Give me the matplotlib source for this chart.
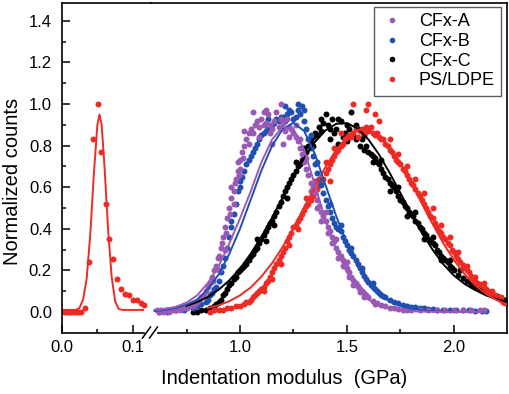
import numpy as np
import matplotlib
matplotlib.use("Agg")
import matplotlib.pyplot as plt
from matplotlib.lines import Line2D

plt.rcParams['font.family'] = ['Liberation Sans', 'DejaVu Sans']

# colours
c_a = '#9b59b6'
c_b = '#1f4fb0'
c_c = '#000000'
c_d = '#ee2a24'

# PS/LDPE low-modulus part (left segment)
low_x = [0.003, 0.006, 0.009, 0.012, 0.015, 0.018, 0.021, 0.024, 0.027, 0.032, 0.038,
         0.044, 0.0505, 0.0556, 0.0616, 0.0667, 0.0722, 0.0778, 0.0833, 0.089, 0.094,
         0.100, 0.106, 0.111, 0.116]
low_y = [0, 0, 0, 0, 0, 0, 0, 0, 0, 0.02, 0.24, 0.83, 1.0, 0.77, 0.52, 0.35, 0.255,
         0.157, 0.11, 0.085, 0.08, 0.06, 0.057, 0.045, 0.035]
low_fit_x = [0.0, 0.01, 0.02, 0.025, 0.03, 0.035, 0.04, 0.045, 0.05, 0.053, 0.056, 0.06,
             0.065, 0.07, 0.075, 0.08, 0.085, 0.09, 0.1, 0.114]
low_fit_y = [0.01, 0.01, 0.01, 0.02, 0.06, 0.16, 0.37, 0.66, 0.90, 0.95, 0.90, 0.70,
             0.40, 0.17, 0.05, 0.015, 0.01, 0.01, 0.01, 0.01]

# CFx-A
cfa = [(0.61, 0.01), (0.62, 0.00), (0.63, 0.01), (0.64, 0.00), (0.65, 0.01), (0.66, 0.01),
       (0.67, 0.00), (0.68, 0.01), (0.69, 0.01), (0.70, 0.01), (0.71, 0.02), (0.72, 0.01),
       (0.73, 0.02), (0.74, 0.02), (0.75, 0.02), (0.76, 0.03), (0.77, 0.03), (0.78, 0.03),
       (0.79, 0.04), (0.80, 0.05), (0.81, 0.06), (0.82, 0.07), (0.83, 0.08), (0.84, 0.10),
       (0.85, 0.12), (0.86, 0.14), (0.87, 0.17), (0.875, 0.15), (0.88, 0.20), (0.89, 0.22),
       (0.895, 0.26), (0.90, 0.27), (0.91, 0.31), (0.915, 0.33), (0.92, 0.36), (0.93, 0.41),
       (0.935, 0.38), (0.94, 0.45), (0.95, 0.50), (0.955, 0.47), (0.96, 0.55), (0.97, 0.58),
       (0.975, 0.62), (0.98, 0.64), (0.99, 0.68), (0.995, 0.66), (1.00, 0.73), (1.01, 0.77),
       (1.015, 0.74), (1.02, 0.80), (1.03, 0.83), (1.04, 0.86), (1.05, 0.88), (1.06, 0.86),
       (1.07, 0.90), (1.08, 0.92), (1.09, 0.89), (1.10, 0.93), (1.11, 0.90), (1.12, 0.91),
       (1.13, 0.95), (1.14, 0.90), (1.15, 0.88), (1.16, 0.92), (1.17, 0.96), (1.18, 0.89),
       (1.19, 0.93), (1.20, 0.91), (1.21, 0.87), (1.22, 0.93), (1.23, 0.89), (1.24, 0.88),
       (1.25, 0.86), (1.26, 0.84), (1.27, 0.82), (1.28, 0.79), (1.29, 0.76), (1.30, 0.72),
       (1.31, 0.69), (1.32, 0.66), (1.33, 0.62), (1.34, 0.60), (1.35, 0.57), (1.36, 0.54),
       (1.37, 0.51), (1.38, 0.48), (1.39, 0.46), (1.40, 0.44), (1.41, 0.41), (1.42, 0.39),
       (1.43, 0.36), (1.44, 0.34), (1.45, 0.31), (1.46, 0.29), (1.47, 0.27), (1.48, 0.25),
       (1.49, 0.23), (1.50, 0.21), (1.51, 0.19), (1.52, 0.17), (1.53, 0.155), (1.54, 0.14),
       (1.55, 0.125), (1.56, 0.11), (1.57, 0.10), (1.58, 0.09), (1.59, 0.08), (1.60, 0.07),
       (1.62, 0.055), (1.64, 0.045), (1.66, 0.035), (1.68, 0.03), (1.70, 0.02), (1.72, 0.02),
       (1.74, 0.015), (1.76, 0.01), (1.78, 0.01), (1.80, 0.01), (1.84, 0.01), (1.88, 0.01),
       (1.92, 0.01), (1.96, 0.01), (2.00, 0.01), (2.04, 0.01), (2.08, 0.01), (2.12, 0.01),
       (2.14, 0.01),
       (1.06, 0.96), (1.11, 0.96), (1.19, 1.00), (1.02, 0.87), (1.00, 0.69), (0.97, 0.52),
       (0.93, 0.30), (0.90, 0.20), (1.14, 0.86), (1.23, 0.84), (1.28, 0.83), (1.33, 0.58),
       (1.38, 0.44), (1.43, 0.33), (1.48, 0.22), (1.53, 0.13), (1.58, 0.07), (1.63, 0.04),
       (1.36, 0.50), (1.41, 0.38), (1.46, 0.26), (1.51, 0.17), (1.56, 0.095), (1.09, 0.84),
       (1.15, 0.81), (1.20, 0.81), (0.96, 0.60), (0.99, 0.72), (1.04, 0.81), (1.12, 0.97),
       (1.26, 0.90), (1.31, 0.74), (1.35, 0.62), (1.40, 0.48), (1.45, 0.35), (1.50, 0.24)]

# CFx-B
cfb = [(0.62, 0.00), (0.66, 0.00), (0.70, 0.01), (0.74, 0.01), (0.78, 0.02), (0.80, 0.03),
       (0.82, 0.04), (0.84, 0.05), (0.85, 0.06), (0.86, 0.08), (0.87, 0.09), (0.88, 0.11),
       (0.89, 0.12), (0.90, 0.15), (0.91, 0.19), (0.92, 0.22), (0.93, 0.26), (0.94, 0.31),
       (0.95, 0.36), (0.96, 0.41), (0.97, 0.47), (0.98, 0.52), (0.99, 0.58), (1.00, 0.63),
       (1.01, 0.65), (1.02, 0.68), (1.03, 0.71), (1.04, 0.73), (1.05, 0.75), (1.06, 0.77),
       (1.07, 0.79), (1.08, 0.81), (1.09, 0.83), (1.10, 0.85), (1.11, 0.86), (1.12, 0.87),
       (1.13, 0.88), (1.14, 0.89), (1.15, 0.90), (1.16, 0.91), (1.17, 0.93), (1.18, 0.92),
       (1.19, 0.94), (1.20, 0.94), (1.21, 0.92), (1.22, 0.95), (1.23, 0.97), (1.24, 0.96),
       (1.25, 0.93), (1.26, 0.94), (1.27, 0.97), (1.28, 0.95), (1.29, 0.99), (1.30, 0.92),
       (1.31, 0.88), (1.32, 0.83), (1.33, 0.79), (1.34, 0.75), (1.35, 0.71), (1.36, 0.67),
       (1.37, 0.64), (1.38, 0.61), (1.39, 0.57), (1.40, 0.54), (1.41, 0.51), (1.42, 0.48),
       (1.43, 0.45), (1.44, 0.43), (1.45, 0.41), (1.46, 0.40), (1.47, 0.39), (1.48, 0.36),
       (1.49, 0.34), (1.50, 0.32), (1.51, 0.30), (1.52, 0.285), (1.53, 0.27), (1.54, 0.25),
       (1.55, 0.23), (1.56, 0.21), (1.57, 0.19), (1.58, 0.175), (1.59, 0.16), (1.60, 0.145),
       (1.61, 0.13), (1.62, 0.12), (1.63, 0.11), (1.64, 0.10), (1.65, 0.09), (1.66, 0.08),
       (1.67, 0.075), (1.68, 0.07), (1.70, 0.06), (1.72, 0.05), (1.74, 0.045), (1.76, 0.035),
       (1.78, 0.03), (1.80, 0.025), (1.82, 0.025), (1.84, 0.02), (1.86, 0.02), (1.88, 0.015),
       (1.90, 0.015), (1.92, 0.012), (1.95, 0.01), (1.98, 0.01), (2.01, 0.01), (2.04, 0.008),
       (2.07, 0.008), (2.10, 0.005), (2.13, 0.005), (2.15, 0.005),
       (1.13, 0.93), (1.21, 0.99), (1.27, 1.00), (1.30, 0.97), (1.33, 0.85), (1.36, 0.72),
       (1.42, 0.52), (1.47, 0.42), (1.52, 0.31), (1.57, 0.21), (1.62, 0.14), (0.96, 0.44),
       (1.00, 0.60)]

# CFx-C
cfc = [(0.78, 0.00), (0.80, 0.00), (0.82, 0.01), (0.84, 0.01), (0.86, 0.02), (0.87, 0.02),
       (0.88, 0.03), (0.89, 0.04), (0.90, 0.05), (0.91, 0.06), (0.92, 0.08), (0.93, 0.09),
       (0.94, 0.11), (0.95, 0.13), (0.96, 0.14), (0.97, 0.16), (0.98, 0.17), (0.99, 0.19),
       (1.00, 0.20), (1.01, 0.21), (1.02, 0.22), (1.03, 0.23), (1.04, 0.25), (1.05, 0.27),
       (1.06, 0.28), (1.07, 0.30), (1.08, 0.31), (1.09, 0.33), (1.10, 0.35), (1.11, 0.37),
       (1.12, 0.39), (1.13, 0.41), (1.14, 0.43), (1.15, 0.44), (1.16, 0.46), (1.17, 0.48),
       (1.18, 0.51), (1.19, 0.53), (1.20, 0.56), (1.21, 0.58), (1.22, 0.60), (1.23, 0.62),
       (1.24, 0.64), (1.25, 0.66), (1.26, 0.68), (1.27, 0.70), (1.28, 0.71), (1.29, 0.73),
       (1.30, 0.75), (1.31, 0.77), (1.32, 0.80), (1.33, 0.82), (1.34, 0.84), (1.35, 0.86),
       (1.36, 0.85), (1.37, 0.89), (1.38, 0.87), (1.39, 0.91), (1.40, 0.95), (1.41, 0.90),
       (1.42, 0.88), (1.43, 0.93), (1.44, 0.86), (1.45, 0.88), (1.46, 0.93), (1.47, 0.92),
       (1.48, 0.84), (1.49, 0.86), (1.50, 0.90), (1.51, 0.88), (1.52, 0.96), (1.53, 0.85),
       (1.54, 0.83), (1.55, 0.88), (1.56, 0.80), (1.57, 0.83), (1.58, 0.78), (1.59, 0.80),
       (1.60, 0.77), (1.61, 0.76), (1.62, 0.75), (1.63, 0.74), (1.64, 0.72), (1.65, 0.71),
       (1.66, 0.69), (1.67, 0.67), (1.68, 0.65), (1.69, 0.64), (1.70, 0.62), (1.71, 0.61),
       (1.72, 0.60), (1.73, 0.58), (1.74, 0.56), (1.75, 0.54), (1.76, 0.53), (1.77, 0.51),
       (1.78, 0.50), (1.79, 0.48), (1.80, 0.47), (1.81, 0.46), (1.82, 0.44), (1.83, 0.43),
       (1.84, 0.41), (1.85, 0.40), (1.86, 0.38), (1.87, 0.37), (1.88, 0.35), (1.89, 0.34),
       (1.90, 0.33), (1.91, 0.32), (1.92, 0.30), (1.93, 0.29), (1.94, 0.27), (1.95, 0.26),
       (1.96, 0.25), (1.97, 0.24), (1.98, 0.22), (1.99, 0.21), (2.00, 0.20), (2.02, 0.18),
       (2.04, 0.165), (2.06, 0.15), (2.08, 0.13), (2.10, 0.12), (2.12, 0.11), (2.14, 0.10),
       (2.16, 0.09), (2.18, 0.08), (2.20, 0.075), (2.22, 0.065), (2.24, 0.06),
       (1.08, 0.35), (1.12, 0.34), (1.16, 0.42), (1.22, 0.55), (1.26, 0.72), (1.30, 0.79),
       (1.34, 0.80), (1.38, 0.93), (1.42, 0.83), (1.46, 0.81), (1.50, 0.82), (1.54, 0.90),
       (1.58, 0.85), (1.62, 0.72), (1.66, 0.73), (1.70, 0.58), (1.74, 0.60), (1.78, 0.46),
       (1.82, 0.48), (1.86, 0.35), (1.90, 0.36), (1.94, 0.25), (1.98, 0.25), (2.03, 0.20),
       (2.08, 0.145), (2.13, 0.12)]

# PS/LDPE
psl = [(0.86, 0.00), (0.88, 0.01), (0.90, 0.01), (0.92, 0.01), (0.94, 0.02), (0.96, 0.02),
       (0.98, 0.03), (1.00, 0.03), (1.02, 0.04), (1.03, 0.05), (1.04, 0.05), (1.05, 0.06),
       (1.06, 0.07), (1.07, 0.08), (1.08, 0.09), (1.09, 0.10), (1.10, 0.11), (1.11, 0.12),
       (1.12, 0.14), (1.13, 0.15), (1.14, 0.17), (1.15, 0.19), (1.16, 0.21), (1.17, 0.23),
       (1.18, 0.25), (1.19, 0.27), (1.20, 0.29), (1.21, 0.31), (1.22, 0.34), (1.23, 0.36),
       (1.24, 0.38), (1.25, 0.41), (1.26, 0.42), (1.27, 0.44), (1.28, 0.45), (1.29, 0.47),
       (1.30, 0.49), (1.31, 0.51), (1.32, 0.52), (1.33, 0.54), (1.34, 0.56), (1.35, 0.58),
       (1.36, 0.59), (1.37, 0.61), (1.38, 0.62), (1.39, 0.64), (1.40, 0.67), (1.41, 0.69),
       (1.42, 0.71), (1.43, 0.73), (1.44, 0.75), (1.45, 0.77), (1.46, 0.78), (1.47, 0.80),
       (1.48, 0.81), (1.49, 0.83), (1.50, 0.84), (1.51, 0.85), (1.52, 0.84), (1.53, 0.86),
       (1.54, 0.88), (1.55, 0.84), (1.56, 0.87), (1.57, 0.88), (1.58, 0.86), (1.59, 0.89),
       (1.60, 0.87), (1.61, 0.89), (1.62, 0.86), (1.63, 0.85), (1.64, 0.86), (1.65, 0.84),
       (1.66, 0.83), (1.67, 0.83), (1.68, 0.81), (1.69, 0.80), (1.70, 0.78), (1.71, 0.77),
       (1.72, 0.75), (1.73, 0.73), (1.74, 0.72), (1.75, 0.71), (1.76, 0.69), (1.77, 0.68),
       (1.78, 0.66), (1.79, 0.64), (1.80, 0.62), (1.81, 0.61), (1.82, 0.59), (1.83, 0.57),
       (1.84, 0.56), (1.85, 0.54), (1.86, 0.52), (1.87, 0.50), (1.88, 0.48), (1.89, 0.46),
       (1.90, 0.45), (1.91, 0.43), (1.92, 0.41), (1.93, 0.39), (1.94, 0.38), (1.95, 0.36),
       (1.96, 0.35), (1.97, 0.33), (1.98, 0.32), (1.99, 0.30), (2.00, 0.29), (2.01, 0.27),
       (2.02, 0.255), (2.03, 0.24), (2.04, 0.225), (2.05, 0.21), (2.06, 0.20), (2.07, 0.19),
       (2.08, 0.175), (2.09, 0.16), (2.10, 0.15), (2.11, 0.14), (2.12, 0.135), (2.13, 0.13),
       (2.14, 0.12), (2.15, 0.11), (2.16, 0.10), (2.17, 0.09), (2.18, 0.085), (2.19, 0.08),
       (2.20, 0.07), (2.21, 0.065), (2.22, 0.06), (2.23, 0.05), (2.24, 0.045),
       (1.53, 1.00), (1.60, 1.00), (1.59, 0.97), (1.65, 0.92), (1.63, 0.95), (1.47, 0.86),
       (1.44, 0.79), (1.40, 0.72), (1.35, 0.63), (1.31, 0.55), (1.27, 0.40), (1.23, 0.32),
       (1.19, 0.23), (1.15, 0.16), (1.11, 0.10), (1.42, 0.63), (1.70, 0.83), (1.74, 0.76),
       (1.78, 0.70), (1.82, 0.64), (1.86, 0.57), (1.90, 0.50), (1.94, 0.42), (1.98, 0.36),
       (2.02, 0.29), (2.06, 0.22), (2.10, 0.17), (2.14, 0.14), (2.18, 0.10), (2.22, 0.07)]

# fitted curves, read at 0.05 GPa steps
nan = np.nan
fit_x = [0.60, 0.65, 0.70, 0.75, 0.80, 0.85, 0.90, 0.95, 1.00, 1.05, 1.10, 1.15, 1.20,
         1.25, 1.30, 1.35, 1.40, 1.45, 1.50, 1.55, 1.60, 1.65, 1.70, 1.75, 1.80, 1.85,
         1.90, 1.95, 2.00, 2.05, 2.10, 2.15, 2.20, 2.25]
fit_a = [0.010, 0.015, 0.025, 0.045, 0.080, 0.140, 0.220, 0.330, 0.450, 0.580, 0.720,
         0.830, 0.890, 0.880, 0.780, 0.610, 0.440, 0.300, 0.190, 0.110, 0.060, 0.030,
         0.015, 0.008, 0.004, 0.002, 0.001, 0, 0, 0, 0, 0, nan, nan]
fit_b = [0.005, 0.010, 0.020, 0.035, 0.060, 0.110, 0.180, 0.280, 0.400, 0.540, 0.680,
         0.800, 0.880, 0.910, 0.870, 0.760, 0.610, 0.460, 0.330, 0.220, 0.140, 0.085,
         0.050, 0.030, 0.015, 0.008, 0.004, 0.002, 0.001, 0, 0, 0, nan, nan]
fit_c = [nan, nan, nan, 0.030, 0.048, 0.072, 0.107, 0.152, 0.209, 0.280, 0.362, 0.454,
         0.552, 0.650, 0.740, 0.817, 0.874, 0.905, 0.908, 0.882, 0.830, 0.757, 0.668,
         0.572, 0.473, 0.380, 0.300, 0.230, 0.175, 0.135, 0.105, 0.080, 0.062, 0.048]
fit_d = [nan, nan, nan, nan, nan, 0.020, 0.032, 0.052, 0.080, 0.118, 0.170, 0.235, 0.314,
         0.404, 0.503, 0.603, 0.698, 0.780, 0.841, 0.874, 0.877, 0.850, 0.794, 0.716,
         0.623, 0.523, 0.424, 0.331, 0.250, 0.182, 0.128, 0.087, 0.057, 0.035]

labels = ['CFx-A', 'CFx-B', 'CFx-C', 'PS/LDPE']

W, H = 510, 394
fig = plt.figure(figsize=(W / 100, H / 100), dpi=100)

bot = (H - 333) / H
hgt = 330 / H
ax_l = fig.add_axes([61.7 / W, bot, (151 - 61.7) / W, hgt])
ax_r = fig.add_axes([151 / W, bot, (507 - 151) / W, hgt])

ms = 4.3
lw = 1.4

# left segment
ax_l.plot(low_x, low_y, 'o', color=c_d, ms=ms, mec='none')
ax_l.plot(low_fit_x, low_fit_y, '-', color=c_d, lw=lw)

# right segment
series = [(cfc, fit_c, c_c), (psl, fit_d, c_d), (cfb, fit_b, c_b), (cfa, fit_a, c_a)]
for pts, fit, col in series:
    xs, ys = zip(*pts)
    ax_r.plot(xs, ys, 'o', color=col, ms=ms, mec='none', zorder=2)
for pts, fit, col in series:
    ax_r.plot(fit_x, fit, '-', color=col, lw=lw, zorder=3)

for ax in (ax_l, ax_r):
    ax.set_ylim(-0.101, 1.486)
    for s in ax.spines.values():
        s.set_linewidth(1.2)
    ax.tick_params(which='both', direction='in', labelsize=12, width=1.1)
    ax.tick_params(which='major', length=5.5)
    ax.tick_params(which='minor', length=3)
    ax.tick_params(axis='x', pad=5)
    ax.tick_params(axis='y', pad=7)

ax_l.set_xlim(0, 0.1252)
ax_l.set_xticks([0.0, 0.1])
ax_l.set_xticks([0.05], minor=True)
ax_l.set_xticklabels(['0.0', '0.1'])
ax_l.set_yticks([0.0, 0.2, 0.4, 0.6, 0.8, 1.0, 1.2, 1.4])
ax_l.set_yticks([0.1, 0.3, 0.5, 0.7, 0.9, 1.1, 1.3], minor=True)
ax_l.set_yticklabels(['0.0', '0.2', '0.4', '0.6', '0.8', '1.0', '1.2', '1.4'])
ax_l.spines['right'].set_visible(False)
ax_l.spines['bottom'].set_bounds(0, 0.116)

ax_r.set_xlim(0.584, 2.248)
ax_r.set_xticks([1.0, 1.5, 2.0])
ax_r.set_xticks([0.75, 1.25, 1.75], minor=True)
ax_r.set_xticklabels(['1.0', '1.5', '2.0'])
ax_r.set_yticks([])
ax_r.spines['left'].set_visible(False)
ax_r.spines['bottom'].set_bounds(0.617, 2.248)
ax_r.patch.set_alpha(0)

# break marks on the x axis
for x0 in (142.5, 149.5):
    fig.add_artist(Line2D([x0 / W, (x0 + 8) / W], [(H - 338) / H, (H - 327) / H],
                          color='black', lw=1.1))

fig.text(284.5 / W, (H - 378) / H, 'Indentation modulus  (GPa)', ha='center',
         va='center', fontsize=14.5)
fig.text(13 / W, (H - 181) / H, 'Normalized counts', ha='center', va='center',
         rotation=90, fontsize=14.5)

handles = [Line2D([], [], ls='none', marker='o', color=c, ms=4.0, mec='none')
           for c in (c_a, c_b, c_c, c_d)]
leg = ax_r.legend(handles, labels, loc='upper right', bbox_to_anchor=(0.983, 0.988),
                  borderaxespad=0, fontsize=13, frameon=True, fancybox=False,
                  edgecolor='#333333', handlelength=1.2, handletextpad=0.9,
                  labelspacing=0.15, borderpad=0.35)
leg.get_frame().set_linewidth(1.0)

fig.savefig('out.png', dpi=100)
